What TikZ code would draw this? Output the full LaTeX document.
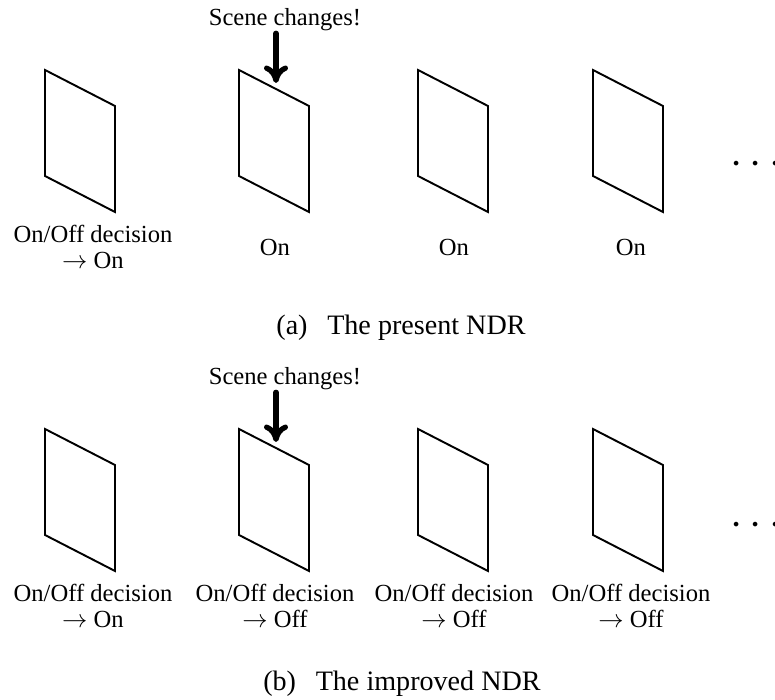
\documentclass[tikz,border=0pt]{standalone}
\usepackage{fontspec}
\setmainfont{Liberation Serif}
\usetikzlibrary{arrows.meta}
\tikzset{
  picframe/.style={line width=1.1pt, line join=miter},
  decision/.style={font=\fontsize{14}{15.3}\selectfont, align=center, inner sep=1pt},
  scenelabel/.style={font=\fontsize{14}{17}\selectfont, inner sep=1pt},
  scenearrow/.style={line width=3pt, line cap=round, -{To[length=3.5mm,width=4.8mm]}},
  moredots/.style={font=\fontsize{34}{38}\selectfont, anchor=base, inner sep=0pt},
  caption/.style={font=\fontsize{16}{19}\selectfont}
}
\newcommand\framedots{${\cdot}\kern4pt{\cdot}\kern4pt{\cdot}$}
\begin{document}
\begin{tikzpicture}
\useasboundingbox (0,0) rectangle (15.5,14);
% (a) the present NDR
\foreach \x in {0.9,4.78,8.36,11.86}
  \draw[picframe] (\x,12.6) -- (\x+1.4,11.88) -- (\x+1.4,9.76) -- (\x,10.48) -- cycle;
\node[decision] (a1) at (1.86,9.06) {On/Off decision\\$\rightarrow$ On};
\node[decision] (a2) at (5.5,9.06) {On};
\node[decision] (a3) at (9.08,9.06) {On};
\node[decision] (a4) at (12.62,9.06) {On};
\node[moredots] (adots) at (15.12,10.5) {\framedots};
\node[scenelabel] (achg) at (5.7,13.6) {Scene changes!};
\coordinate (ahit) at (5.52,12.34);
\draw[scenearrow] (achg.south -| ahit) -- (ahit);
\node[caption] (acap) at (8.02,7.44) {(a)\hspace{0.7em}The present NDR};
% (b) the improved NDR
\foreach \x in {0.9,4.78,8.36,11.86}
  \draw[picframe] (\x,5.42) -- (\x+1.4,4.7) -- (\x+1.4,2.58) -- (\x,3.3) -- cycle;
\node[decision] (b1) at (1.86,1.88) {On/Off decision\\$\rightarrow$ On};
\node[decision] (b2) at (5.5,1.88) {On/Off decision\\$\rightarrow$ Off};
\node[decision] (b3) at (9.08,1.88) {On/Off decision\\$\rightarrow$ Off};
\node[decision] (b4) at (12.62,1.88) {On/Off decision\\$\rightarrow$ Off};
\node[moredots] (bdots) at (15.12,3.28) {\framedots};
\node[scenelabel] (bchg) at (5.7,6.42) {Scene changes!};
\coordinate (bhit) at (5.52,5.16);
\draw[scenearrow] (bchg.south -| bhit) -- (bhit);
\node[caption] (bcap) at (8.04,0.32) {(b)\hspace{0.7em}The improved NDR};
\end{tikzpicture}
\end{document}
